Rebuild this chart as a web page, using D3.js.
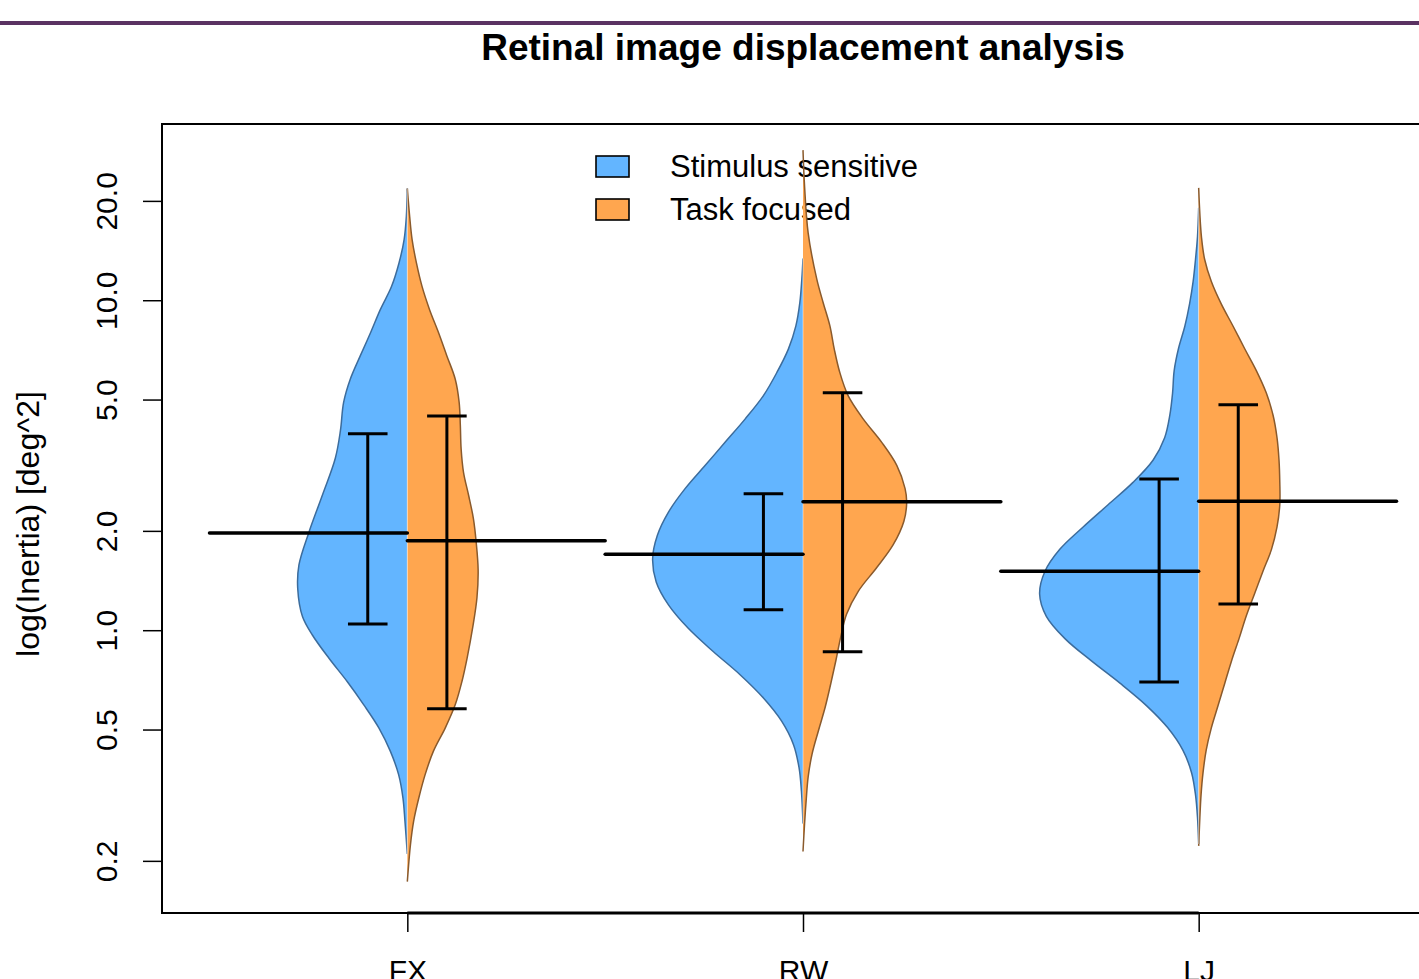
<!DOCTYPE html>
<html>
<head>
<meta charset="utf-8">
<script src="https://cdn.jsdelivr.net/npm/d3@7"></script>
<style>
  html, body { margin: 0; padding: 0; background: #ffffff; }
  svg { display: block; font-family: "Liberation Sans", Arial, Helvetica, sans-serif; }
</style>
</head>
<body>
<svg id="chart" width="1419" height="979"></svg>
<script>
// ---------------- data ----------------
const groups = ["FX", "RW", "LJ"];
const seriesNames = ["Stimulus sensitive", "Task focused"];
const yTicks = [0.2, 0.5, 1.0, 2.0, 5.0, 10.0, 20.0];
const chartTitle = "Retinal image displacement analysis";
const yTitle = "log(Inertia) [deg^2]";

// summary statistics (centre line, lower / upper bar ends)
const stimMean = [1.97, 1.70, 1.51];
const stimLow  = [1.045, 1.153, 0.697];
const stimHigh = [3.94, 2.59, 2.87];
const taskMean = [1.866, 2.45, 2.46];
const taskLow  = [0.578, 0.86, 1.20];
const taskHigh = [4.46, 5.24, 4.82];

// violin half outlines: [value, half-width in category units]
const fxStim = [[21.8,0],[17.9,0.0025],[15.3,0.008],[12.97,0.021],[11.0,0.040],[9.38,0.068],[7.97,0.093],[6.78,0.119],[5.77,0.144],[4.90,0.161],[4.03,0.169],[3.32,0.182],[2.56,0.215],[1.975,0.249],[1.574,0.274],[1.338,0.277],[1.10,0.265],[0.967,0.240],[0.822,0.198],[0.699,0.152],[0.594,0.110],[0.506,0.072],[0.430,0.043],[0.365,0.022],[0.310,0.011],[0.264,0.006],[0.210,0]];
const fxTask = [[21.8,0],[17.9,0.006],[15.3,0.012],[12.97,0.023],[11.03,0.037],[9.38,0.056],[7.97,0.079],[6.78,0.100],[5.77,0.121],[4.90,0.131],[4.17,0.134],[3.54,0.136],[3.01,0.142],[2.56,0.155],[2.18,0.167],[1.85,0.174],[1.52,0.179],[1.254,0.176],[1.032,0.166],[0.822,0.151],[0.699,0.138],[0.594,0.121],[0.506,0.096],[0.430,0.066],[0.365,0.045],[0.310,0.029],[0.264,0.016],[0.2245,0.008],[0.173,0]];
const rwStim = [[13.38,0],[11.56,0.003],[9.83,0.008],[8.36,0.018],[7.11,0.037],[6.04,0.066],[5.14,0.100],[4.37,0.146],[3.71,0.197],[3.16,0.247],[2.685,0.298],[2.28,0.340],[1.94,0.368],[1.65,0.380],[1.40,0.371],[1.193,0.340],[1.013,0.290],[0.862,0.227],[0.733,0.159],[0.623,0.100],[0.530,0.054],[0.450,0.024],[0.383,0.010],[0.3256,0.004],[0.2596,0]];
const rwTask = [[28.5,0],[22.1,0.004],[16.0,0.013],[11.56,0.035],[9.83,0.051],[8.36,0.068],[7.11,0.079],[6.04,0.093],[5.14,0.114],[4.37,0.152],[3.71,0.199],[3.16,0.237],[2.685,0.258],[2.435,0.262],[2.14,0.255],[1.817,0.228],[1.546,0.186],[1.314,0.140],[1.117,0.110],[0.950,0.095],[0.808,0.083],[0.687,0.070],[0.584,0.056],[0.496,0.039],[0.422,0.023],[0.359,0.013],[0.305,0.008],[0.2596,0.004],[0.2136,0]];
const ljStim = [[19.05,0],[15.56,0.003],[13.31,0.008],[11.40,0.014],[9.75,0.023],[8.34,0.035],[7.14,0.051],[6.11,0.062],[5.23,0.066],[4.48,0.073],[3.83,0.086],[3.28,0.115],[2.805,0.166],[2.40,0.229],[2.055,0.292],[1.758,0.351],[1.504,0.389],[1.288,0.402],[1.102,0.385],[0.943,0.338],[0.807,0.271],[0.691,0.199],[0.591,0.132],[0.506,0.078],[0.433,0.040],[0.370,0.018],[0.317,0.008],[0.271,0.003],[0.225,0]];
const ljTask = [[21.9,0],[18.2,0.003],[15.56,0.007],[13.31,0.015],[11.40,0.032],[9.75,0.057],[8.34,0.087],[7.14,0.116],[6.11,0.146],[5.23,0.171],[4.48,0.188],[3.83,0.198],[3.28,0.203],[2.805,0.205],[2.40,0.205],[2.055,0.198],[1.758,0.184],[1.504,0.162],[1.288,0.141],[1.102,0.120],[0.943,0.102],[0.807,0.083],[0.691,0.066],[0.591,0.049],[0.506,0.032],[0.433,0.019],[0.370,0.011],[0.317,0.006],[0.271,0.003],[0.222,0]];

const stimViolins = [fxStim, rwStim, ljStim];
const taskViolins = [fxTask, rwTask, ljTask];

// ---------------- layout / style ----------------
const fillStim = "#63b5ff", lineStim = "#3c6c9c";
const fillTask = "#ffa64f", lineTask = "#8a5a2c";
const plot = { left: 162, right: 1444, top: 124, bottom: 913 };

const svg = d3.select("#chart");

const x = d3.scaleLinear().domain([0.38, 3.62]).range([plot.left, plot.right]);
const y = d3.scaleLog().domain([0.139, 34.2]).range([plot.bottom, plot.top]);

// decorative top rule
svg.append("rect").attr("x", 0).attr("y", 21).attr("width", 1419).attr("height", 4).attr("fill", "#5a3262");

// title
svg.append("text")
  .attr("x", x(2)).attr("y", 59.5)
  .attr("text-anchor", "middle")
  .attr("font-size", 37).attr("font-weight", "bold")
  .text(chartTitle);

// plot frame
svg.append("rect")
  .attr("x", plot.left).attr("y", plot.top)
  .attr("width", plot.right - plot.left).attr("height", plot.bottom - plot.top)
  .attr("fill", "none").attr("stroke", "#000").attr("stroke-width", 2);

// y axis
const yAxis = d3.axisLeft(y).tickValues(yTicks).tickSize(19).tickFormat(d3.format(".1f"));
const yg = svg.append("g").attr("transform", `translate(${plot.left},0)`).call(yAxis);
yg.select(".domain").remove();
yg.selectAll(".tick line").attr("stroke", "#000").attr("stroke-width", 1.5);
yg.selectAll(".tick text")
  .attr("font-size", 30).attr("fill", "#000")
  .attr("x", null).attr("dy", null)
  .attr("text-anchor", "middle")
  .attr("transform", "translate(-45,0) rotate(-90)");

// x axis
const xAxis = d3.axisBottom(x).tickValues([1, 2, 3]).tickSize(19).tickFormat((d) => groups[d - 1]);
const xg = svg.append("g").attr("transform", `translate(0,${plot.bottom})`).call(xAxis);
xg.select(".domain").attr("d", `M${x(1)},0H${x(3)}`).attr("stroke", "#000").attr("stroke-width", 3);
xg.selectAll(".tick line").attr("stroke", "#000").attr("stroke-width", 1.5);
xg.selectAll(".tick text").attr("font-size", 30).attr("fill", "#000").attr("y", 47).attr("dy", "0.71em");

// y axis title
svg.append("text")
  .attr("transform", `translate(39,524) rotate(-90)`)
  .attr("text-anchor", "middle").attr("font-size", 32)
  .text(yTitle);

// legend
const legend = svg.append("g");
[[fillStim, seriesNames[0]], [fillTask, seriesNames[1]]].forEach(([c, name], i) => {
  legend.append("rect").attr("x", 596).attr("y", 156 + i * 43).attr("width", 33).attr("height", 21)
    .attr("fill", c).attr("stroke", "#000").attr("stroke-width", 1.6);
  legend.append("text").attr("x", 670).attr("y", 177 + i * 43).attr("font-size", 31).text(name);
});

// violins
const curve = d3.curveCatmullRom.alpha(0.5);
function drawHalf(data, gi, side, fill, stroke) {
  const cx = gi + 1;
  const area = d3.area().curve(curve)
    .y((d) => y(d[0]))
    .x0(() => x(cx))
    .x1((d) => x(cx + side * d[1]));
  const line = d3.line().curve(curve)
    .y((d) => y(d[0]))
    .x((d) => x(cx + side * d[1]));
  svg.append("path").attr("d", area(data)).attr("fill", fill).attr("stroke", "none");
  svg.append("path").attr("d", line(data)).attr("fill", "none").attr("stroke", stroke).attr("stroke-width", 1.5);
}
groups.forEach((g, i) => {
  drawHalf(stimViolins[i], i, -1, fillStim, lineStim);
  drawHalf(taskViolins[i], i, 1, fillTask, lineTask);
  const top = Math.min(stimViolins[i][0][0], taskViolins[i][0][0]);
  const bot = Math.max(stimViolins[i][stimViolins[i].length - 1][0], taskViolins[i][taskViolins[i].length - 1][0]);
  svg.append("line").attr("x1", x(i + 1)).attr("x2", x(i + 1))
    .attr("y1", y(top)).attr("y2", y(bot))
    .attr("stroke", "#ffffff").attr("stroke-opacity", 0.6).attr("stroke-width", 0.8);
});

// centre lines and bars
function drawStats(mean, low, high, side) {
  groups.forEach((g, i) => {
    const cx = i + 1;
    svg.append("line")
      .attr("x1", x(cx)).attr("x2", x(cx + side * 0.5))
      .attr("y1", y(mean[i])).attr("y2", y(mean[i]))
      .attr("stroke", "#000").attr("stroke-width", 3.5).attr("stroke-linecap", "round");
    const bx = cx + side * 0.1;
    svg.append("line").attr("x1", x(bx)).attr("x2", x(bx))
      .attr("y1", y(low[i])).attr("y2", y(high[i]))
      .attr("stroke", "#000").attr("stroke-width", 3);
    [low[i], high[i]].forEach((v) => {
      svg.append("line").attr("x1", x(bx - 0.05)).attr("x2", x(bx + 0.05))
        .attr("y1", y(v)).attr("y2", y(v))
        .attr("stroke", "#000").attr("stroke-width", 3);
    });
  });
}
drawStats(stimMean, stimLow, stimHigh, -1);
drawStats(taskMean, taskLow, taskHigh, 1);
</script>
</body>
</html>
